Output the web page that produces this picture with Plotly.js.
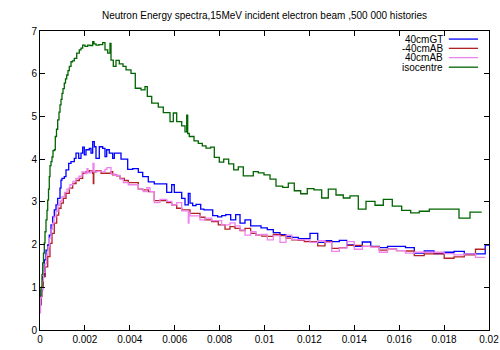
<!DOCTYPE html>
<html><head><meta charset="utf-8">
<script src="https://cdn.plot.ly/plotly-3.0.1.min.js"></script>
<style>html,body{margin:0;padding:0;background:#fff;}#chart{width:500px;height:350px;}</style>
</head><body><div id="chart"></div>
<script>
// ---- data (energy bins in MeV? left edges, histogram values) ----
const names = ["40cmGT", "-40cmAB", "40cmAB", "isocentre"];
const colors = ["#0000ff", "#b22222", "#ee82ee", "#006400"];

const xGT = [0,0.0000445,0.000120,0.000192,0.000267,0.000343,0.000414,0.000490,0.000566,0.000637,0.000713,0.000788,0.000891,0.000935,0.000980,0.001082,0.001158,0.001278,0.001381,0.001528,0.001604,0.001724,0.001826,0.001902,0.001973,0.002049,0.002196,0.002272,0.002347,0.002419,0.002494,0.002641,0.002793,0.002895,0.002971,0.003087,0.003238,0.003310,0.003608,0.003906,0.004129,0.004379,0.004575,0.004824,0.005091,0.005644,0.005866,0.005982,0.006312,0.006459,0.006606,0.006682,0.006802,0.006949,0.007158,0.007305,0.007693,0.007915,0.008094,0.008272,0.008494,0.008717,0.008909,0.009131,0.009385,0.009844,0.010125,0.010392,0.010690,0.010958,0.011212,0.011506,0.012027,0.012370,0.012695,0.012993,0.013332,0.013662,0.014000,0.014356,0.014731,0.015114,0.015479,0.016281,0.016673,0.017114,0.017550,0.018004,0.018441,0.018900,0.019831,0.02];
const yGT = [0.59,0.94,1.25,1.64,1.87,1.99,2.22,2.46,2.65,2.81,2.93,3.08,3.32,3.51,3.55,3.59,3.75,3.90,3.94,4.02,4.14,4.02,4.14,4.28,4.10,4.22,4.25,4.14,4.41,4.29,4.02,4.29,4.25,4.06,4.22,4.14,4.02,4.14,4.00,3.76,3.78,3.69,3.59,3.47,3.42,3.22,3.40,3.22,3.08,2.93,3.20,2.97,2.91,2.94,2.83,2.81,2.68,2.65,2.68,2.70,2.58,2.70,2.50,2.58,2.44,2.39,2.35,2.28,2.23,2.19,2.17,2.14,2.26,2.05,2.09,2.07,2.10,1.99,1.96,2.06,1.96,1.93,1.96,1.93,1.80,1.85,1.79,1.82,1.84,1.78,1.99,1.99];

const xAB_neg = [0,0.0000445,0.0000891,0.000147,0.000236,0.000343,0.000445,0.000535,0.000637,0.000744,0.000833,0.000935,0.001038,0.001158,0.001305,0.001457,0.001604,0.001751,0.001902,0.002049,0.002196,0.002347,0.002374,0.002396,0.002494,0.002717,0.002971,0.003163,0.003238,0.003416,0.003563,0.003755,0.003933,0.004156,0.004379,0.004575,0.004824,0.005091,0.005644,0.005866,0.006089,0.006312,0.006682,0.007127,0.007350,0.007648,0.007942,0.008241,0.008463,0.008686,0.008909,0.009131,0.009385,0.009621,0.009875,0.010125,0.010392,0.010690,0.010958,0.011212,0.011506,0.011773,0.012370,0.012695,0.012993,0.013332,0.013662,0.014356,0.014731,0.015114,0.015479,0.015880,0.016281,0.016673,0.017114,0.018004,0.018441,0.018900,0.019399,0.019831];
const yAB_neg = [0.60,0.78,1.01,1.25,1.48,1.72,2.03,2.26,2.50,2.69,2.85,2.97,3.08,3.20,3.32,3.43,3.50,3.55,3.67,3.71,3.73,3.67,3.43,3.70,3.73,3.67,3.67,3.71,3.63,3.61,3.55,3.50,3.45,3.45,3.30,3.28,3.24,3.03,2.98,2.93,2.85,2.81,2.73,2.64,2.58,2.54,2.46,2.36,2.42,2.38,2.33,2.38,2.26,2.22,2.20,2.19,2.24,2.21,2.15,2.11,2.10,2.07,1.97,2.07,1.91,1.93,1.98,1.96,1.95,1.87,1.90,1.86,1.85,1.74,1.78,1.68,1.71,1.76,1.89,1.89];

const xAB_pos = [0,0.0000223,0.0000668,0.000111,0.000156,0.000223,0.000290,0.000356,0.000423,0.000490,0.000557,0.000624,0.000713,0.000802,0.000891,0.000980,0.001091,0.001203,0.001336,0.001470,0.001604,0.001737,0.001871,0.002004,0.002094,0.002138,0.002272,0.002361,0.002405,0.002539,0.002717,0.002895,0.002984,0.003163,0.003341,0.003563,0.003710,0.003933,0.004379,0.004601,0.004753,0.004900,0.005091,0.005345,0.005644,0.005866,0.006089,0.006312,0.006606,0.006637,0.006682,0.007127,0.007350,0.007648,0.008094,0.008463,0.008686,0.008909,0.009131,0.009385,0.009621,0.009875,0.010125,0.010392,0.010690,0.010958,0.011212,0.011506,0.012027,0.012370,0.012695,0.012993,0.013332,0.013662,0.014000,0.014356,0.014731,0.015114,0.015479,0.015880,0.016281,0.016673,0.018004,0.018441,0.018900,0.019399,0.019831];
const yAB_pos = [0.40,0.75,0.95,1.15,1.35,1.55,1.75,1.95,2.15,2.35,2.50,2.65,2.78,2.92,3.02,3.12,3.22,3.30,3.40,3.48,3.55,3.60,3.70,3.66,3.78,3.68,3.72,3.90,3.70,3.72,3.70,3.76,3.80,3.65,3.62,3.53,3.45,3.40,3.30,3.24,3.33,3.24,2.98,3.06,3.01,2.93,2.98,2.79,2.50,2.75,2.67,2.58,2.62,2.56,2.46,2.51,2.44,2.34,2.22,2.30,2.22,2.24,2.11,2.21,2.05,2.22,2.12,2.11,2.05,2.09,2.05,1.84,1.92,2.07,1.89,1.96,1.94,1.82,1.90,1.86,1.80,1.82,1.79,1.76,1.78,1.70,1.70];

const xIso = [0,0.0000445,0.0000891,0.000120,0.000156,0.000192,0.000223,0.000267,0.000312,0.000343,0.000379,0.000414,0.000445,0.000490,0.000535,0.000579,0.000637,0.000682,0.000735,0.000788,0.000846,0.000891,0.000935,0.000980,0.001024,0.001082,0.001136,0.001189,0.001247,0.001305,0.001381,0.001448,0.001528,0.001635,0.001751,0.001826,0.001902,0.002004,0.002125,0.002227,0.002347,0.002405,0.002494,0.002628,0.002793,0.002895,0.003016,0.003118,0.003163,0.003265,0.003385,0.003532,0.003697,0.003831,0.004053,0.004245,0.004499,0.004677,0.004780,0.004976,0.005269,0.005492,0.005791,0.005938,0.006089,0.006312,0.006459,0.006535,0.006579,0.006650,0.006860,0.007051,0.007229,0.007394,0.007604,0.007764,0.007987,0.008183,0.008405,0.008628,0.008833,0.009056,0.009501,0.009724,0.009978,0.010245,0.010512,0.010811,0.011060,0.011327,0.011612,0.011906,0.012205,0.012548,0.012842,0.013185,0.013510,0.013808,0.014178,0.014521,0.014922,0.015292,0.015693,0.016111,0.016512,0.016895,0.017341,0.018664,0.019154,0.019675];
const yIso = [0.80,1.00,1.30,1.57,1.80,2.04,2.30,2.58,2.80,3.04,3.30,3.59,3.85,3.94,4.05,4.20,4.22,4.53,4.70,4.92,5.10,5.27,5.40,5.54,5.65,5.78,5.88,5.97,6.07,6.17,6.28,6.30,6.36,6.48,6.56,6.60,6.67,6.64,6.67,6.66,6.75,6.70,6.67,6.68,6.73,6.56,6.48,6.71,6.32,6.17,6.31,6.23,6.17,6.09,6.01,5.66,5.62,5.70,5.47,5.31,5.22,5.09,4.88,5.08,4.88,4.78,4.64,5.03,4.60,4.53,4.43,4.37,4.31,4.26,4.28,4.04,3.93,4.00,3.89,3.75,3.82,3.61,3.71,3.68,3.63,3.53,3.37,3.34,3.44,3.26,3.19,3.31,3.28,3.09,3.30,3.16,3.09,3.14,2.83,3.01,2.92,3.06,2.90,2.80,2.74,2.78,2.83,2.62,2.76,2.76];

const xTicks = [0,0.002,0.004,0.006,0.008,0.01,0.012,0.014,0.016,0.018,0.02];
const xTickText = ["0","0.002","0.004","0.006","0.008","0.01","0.012","0.014","0.016","0.018","0.02"];
const yTicks = [0,1,2,3,4,5,6,7];
const titleText = "Neutron Energy spectra,15MeV incident electron beam ,500 000 histories";

// ---- drawing ----
const xs = [xGT, xAB_neg, xAB_pos, xIso];
const ys = [yGT, yAB_neg, yAB_pos, yIso];
const traces = names.map((n, i) => ({
  type: "scatter", mode: "lines", name: n, x: xs[i], y: ys[i],
  line: {shape: "hv", color: colors[i], width: 1.3}, showlegend: false
}));

const font = {family: "Liberation Sans, Arial, sans-serif", size: 10, color: "#000"};
const legendY = [0.973, 0.942, 0.911, 0.879];
const annotations = names.map((n, i) => ({
  xref: "paper", yref: "paper", x: 0.903, y: legendY[i], xanchor: "right", yanchor: "middle",
  text: n, showarrow: false, font: font
}));
const shapes = names.map((n, i) => ({
  type: "line", xref: "paper", yref: "paper", x0: 0.9105, x1: 0.9755, y0: legendY[i], y1: legendY[i],
  line: {color: colors[i], width: 1.3}
}));

const axisCommon = {
  showgrid: false, zeroline: false, showline: true, linecolor: "#000", linewidth: 1,
  mirror: "ticks", ticks: "inside", ticklen: 5, tickcolor: "#000", tickwidth: 1,
  tickfont: font
};

const layout = {
  width: 500, height: 350,
  margin: {l: 40, r: 11, t: 31, b: 20, pad: 0},
  paper_bgcolor: "#fff", plot_bgcolor: "#fff",
  font: font,
  title: {text: titleText, font: font, x: 0.5, xref: "paper", xanchor: "center", y: 0.957, yref: "container", yanchor: "middle"},
  xaxis: Object.assign({}, axisCommon, {range: [0, 0.02], tickvals: xTicks, ticktext: xTickText}),
  yaxis: Object.assign({}, axisCommon, {range: [0, 7], tickvals: yTicks}),
  annotations: annotations, shapes: shapes, showlegend: false
};

Plotly.newPlot("chart", traces, layout, {staticPlot: true, displayModeBar: false});
</script>
</body></html>
